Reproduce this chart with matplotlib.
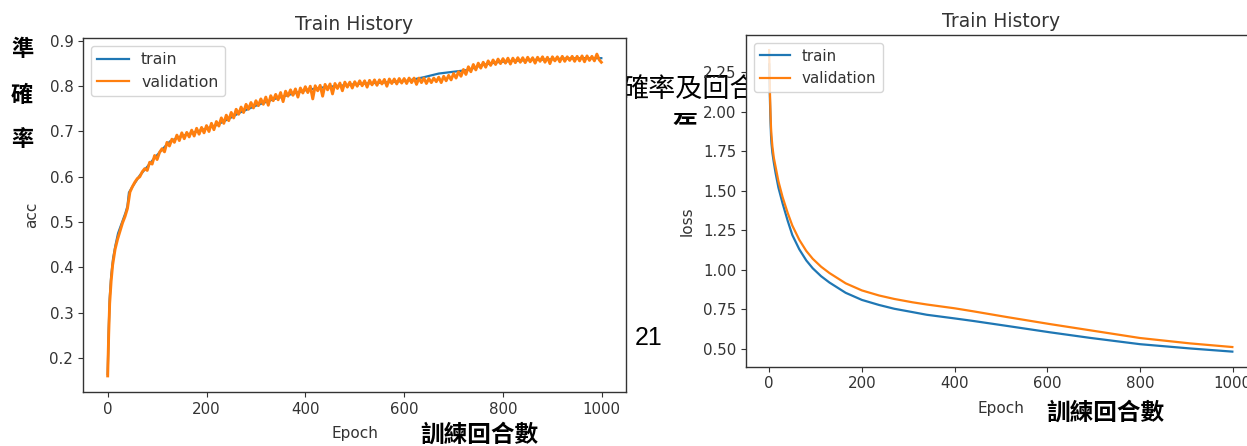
import numpy as np
import matplotlib
matplotlib.use("Agg")
import matplotlib.pyplot as plt
from matplotlib.transforms import Bbox, TransformedBbox

plt.rcParams['font.family'] = ['DejaVu Sans']
plt.rcParams['text.color'] = '#333333'
plt.rcParams['axes.labelcolor'] = '#333333'
plt.rcParams['xtick.color'] = '#333333'
plt.rcParams['ytick.color'] = '#333333'
plt.rcParams['axes.edgecolor'] = '#333333'

CJK = ['Noto Sans CJK TC', 'DejaVu Sans']

# --- accuracy history ---
acc_train_epoch = [0, 2, 4, 7, 11, 16, 21, 26, 31, 36, 40, 43, 50, 65, 80, 92, 110, 126,
                   145, 166, 190, 220, 245, 268, 300, 335, 370, 403, 440, 470, 505, 538,
                   570, 606, 640, 670, 700, 730, 755, 788, 820, 856, 890, 923, 960, 999]
acc_train = [0.164, 0.26, 0.33, 0.38, 0.42, 0.45, 0.475, 0.49, 0.505, 0.52, 0.535, 0.565,
             0.578, 0.603, 0.622, 0.638, 0.66, 0.678, 0.688, 0.695, 0.703, 0.714, 0.728,
             0.742, 0.757, 0.771, 0.782, 0.792, 0.798, 0.801, 0.805, 0.807, 0.809, 0.812,
             0.82, 0.828, 0.832, 0.836, 0.846, 0.853, 0.856, 0.858, 0.859, 0.861, 0.862, 0.862]

acc_val_epoch = [0, 2, 4, 7, 10, 15, 20, 25, 30, 35] + list(range(40, 1000, 5)) + [999]
acc_val = [0.160, 0.25, 0.32, 0.37, 0.405, 0.44, 0.462, 0.48, 0.498, 0.512,
           0.530, 0.566, 0.578, 0.588, 0.596, 0.600, 0.611, 0.618, 0.614, 0.632,
           0.628, 0.647, 0.638, 0.654, 0.662, 0.655, 0.676, 0.668, 0.683, 0.676,
           0.692, 0.680, 0.697, 0.684, 0.698, 0.688, 0.703, 0.690, 0.707, 0.694,
           0.709, 0.697, 0.713, 0.700, 0.718, 0.704, 0.722, 0.712, 0.730, 0.718,
           0.736, 0.724, 0.742, 0.730, 0.749, 0.738, 0.754, 0.742, 0.760, 0.749,
           0.764, 0.752, 0.768, 0.757, 0.772, 0.760, 0.776, 0.758, 0.779, 0.768,
           0.782, 0.770, 0.786, 0.766, 0.789, 0.778, 0.792, 0.780, 0.794, 0.776,
           0.796, 0.785, 0.799, 0.786, 0.800, 0.772, 0.801, 0.790, 0.802, 0.778,
           0.804, 0.792, 0.805, 0.783, 0.806, 0.795, 0.807, 0.790, 0.809, 0.798,
           0.809, 0.796, 0.810, 0.800, 0.812, 0.801, 0.812, 0.798, 0.813, 0.803,
           0.814, 0.802, 0.814, 0.805, 0.815, 0.800, 0.816, 0.806, 0.816, 0.805,
           0.817, 0.807, 0.817, 0.806, 0.818, 0.808, 0.818, 0.804, 0.818, 0.808,
           0.818, 0.806, 0.817, 0.808, 0.818, 0.810, 0.820, 0.808, 0.822, 0.812,
           0.824, 0.814, 0.828, 0.818, 0.832, 0.822, 0.837, 0.826, 0.843, 0.832,
           0.848, 0.836, 0.851, 0.840, 0.853, 0.842, 0.856, 0.846, 0.858, 0.848,
           0.860, 0.850, 0.861, 0.851, 0.862, 0.849, 0.862, 0.852, 0.863, 0.853,
           0.863, 0.852, 0.864, 0.854, 0.863, 0.851, 0.864, 0.855, 0.865, 0.853,
           0.864, 0.850, 0.865, 0.856, 0.865, 0.854, 0.866, 0.855, 0.865, 0.857,
           0.866, 0.855, 0.866, 0.856, 0.867, 0.854, 0.867, 0.857, 0.866, 0.856,
           0.871, 0.858, 0.853]

# --- loss history ---
loss_epoch = [0, 1, 2, 3, 4, 5, 7, 10, 14, 20, 29, 40, 50, 65, 80, 94, 112, 130, 165, 200,
              237, 270, 309, 340, 400, 440, 512, 606, 692, 800, 908, 999]
loss_train = [2.30, 2.16, 2.04, 1.93, 1.85, 1.80, 1.74, 1.68, 1.61, 1.52, 1.42, 1.31,
              1.22, 1.13, 1.06, 1.01, 0.96, 0.92, 0.855, 0.81, 0.778, 0.754, 0.733,
              0.716, 0.693, 0.677, 0.646, 0.605, 0.570, 0.530, 0.503, 0.483]
loss_val = [2.39, 2.22, 2.09, 1.98, 1.90, 1.85, 1.78, 1.71, 1.65, 1.56, 1.46, 1.36,
            1.28, 1.19, 1.12, 1.07, 1.02, 0.98, 0.915, 0.87, 0.838, 0.816, 0.795,
            0.781, 0.757, 0.738, 0.702, 0.657, 0.618, 0.569, 0.535, 0.512]

W, H = 1247, 446
fig = plt.figure(figsize=(W / 100, H / 100), dpi=100)


def px(x, y):
    return x / W, 1 - y / H


# left axes: accuracy
ax1 = fig.add_axes([83 / W, 1 - 392 / H, 543 / W, 354 / H])
ax1.plot(acc_train_epoch, acc_train, color='#1f77b4', lw=1.6, label='train')
ax1.plot(acc_val_epoch, acc_val, color='#ff7f0e', lw=2.1, label='validation')
ax1.set_title('Train History', fontsize=13.5)
ax1.set_ylabel('acc', fontsize=11)
ax1.set_xlabel('Epoch', fontsize=11, labelpad=7)
ax1.set_xticks(np.arange(0, 1001, 200))
ax1.set_yticks(np.arange(0.2, 0.91, 0.1))
ax1.tick_params(labelsize=10.8)
ax1.yaxis.set_label_coords(-0.08, 0.5)
leg1 = ax1.legend(loc='upper left', fontsize=11.3)
for ln in leg1.get_lines():
    ln.set_linewidth(1.6)

# right axes: loss (runs off the right edge like the scan)
ax2 = fig.add_axes([746 / W, 1 - 366.7 / H, 509.5 / W, 331.7 / H])
ax2.plot(loss_epoch, loss_train, color='#1f77b4', lw=1.6, label='train')
ax2.plot(loss_epoch, loss_val, color='#ff7f0e', lw=1.6, label='validation')
ax2.set_title('Train History', fontsize=13.5)
ax2.set_ylabel('loss', fontsize=11)
ax2.set_xlabel('Epoch', fontsize=11, labelpad=7)
ax2.set_xticks(np.arange(0, 1001, 200))
ax2.set_yticks(np.arange(0.5, 2.26, 0.25))
ax2.tick_params(labelsize=10.8)
ax2.yaxis.set_label_coords(-0.101, 0.44)
ax2.legend(loc='upper left', fontsize=10.9)

for ax in (ax1, ax2):
    for s in ax.spines.values():
        s.set_linewidth(1.0)

# document text around the figures
for ch, y in zip(['準', '確', '率'], [49, 95, 140]):
    fig.text(*px(22, y), ch, family=CJK, fontsize=16, fontweight='bold',
             color='black', ha='center', va='center')

fig.text(*px(621, 89), '確率及回合', family=CJK, fontsize=19.5, color='black',
         ha='left', va='center', zorder=-1)
t = fig.text(*px(684.5, 116), '差', family=CJK, fontsize=18, fontweight='bold',
             color='black', ha='center', va='center', zorder=-1)
t.set_clip_box(TransformedBbox(Bbox.from_extents(660 / W, 1 - 140 / H, 710 / W, 1 - 113 / H),
                               fig.transFigure))
t.set_clip_on(True)

fig.text(*px(648.5, 338), '21', family=['Liberation Sans'], fontsize=18, color='black',
         ha='center', va='center')
fig.text(*px(479, 435), '訓練回合數', family=CJK, fontsize=17, fontweight='bold',
         color='black', ha='center', va='center')
fig.text(*px(1105, 413), '訓練回合數', family=CJK, fontsize=17, fontweight='bold',
         color='black', ha='center', va='center')

fig.savefig('out.png', dpi=100)
